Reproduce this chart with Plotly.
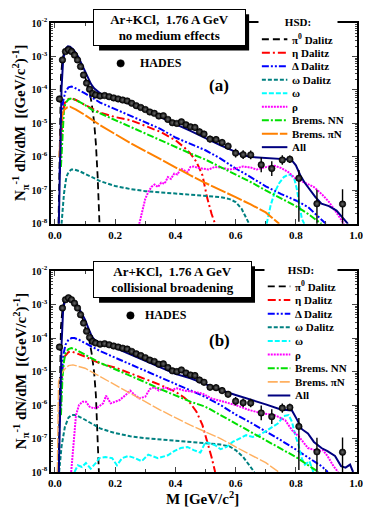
import plotly.graph_objects as go

# ---------------- HADES data (same points in both panels) ----------------
hades_m = [0.015, 0.025, 0.035, 0.045, 0.055, 0.065, 0.075, 0.085, 0.095, 0.105,
           0.115, 0.125, 0.135, 0.15, 0.165, 0.18, 0.195, 0.21, 0.225, 0.24,
           0.255, 0.27, 0.285, 0.30, 0.315, 0.33, 0.345, 0.36, 0.375, 0.39,
           0.405, 0.42, 0.435, 0.45, 0.465, 0.48, 0.495, 0.515, 0.535, 0.555,
           0.575, 0.60, 0.625, 0.65, 0.685, 0.72, 0.755, 0.78, 0.81, 0.87, 0.955]
hades_y = [5.4e-5, 7.9e-4, 1.4e-3, 1.6e-3, 1.4e-3, 1.1e-3, 7.9e-4, 5.0e-4, 2.8e-4, 1.6e-4,
           1.05e-4, 7.9e-5, 7.1e-5, 6.6e-5, 6.8e-5, 6.3e-5, 5.8e-5, 5.4e-5, 5.0e-5, 4.7e-5,
           4.0e-5, 3.4e-5, 3.0e-5, 2.6e-5, 2.2e-5, 2.0e-5, 1.66e-5, 1.7e-5, 1.32e-5, 1.05e-5,
           1.0e-5, 1.12e-5, 9.1e-6, 7.9e-6, 7.6e-6, 5.6e-6, 4.8e-6, 3.4e-6, 3.3e-6, 2.7e-6,
           2.1e-6, 1.3e-6, 1.17e-6, 1.15e-6, 5.8e-7, 4.5e-7, 8.1e-7, 8.5e-7, 2.3e-7, 4.0e-8, 3.9e-8]
# error bar half lengths, in decades
hades_err_up = [0.04] * 24 + [0.07] * 10 + [0.1] * 7 + [0.13, 0.13, 0.13, 0.22, 0.22, 0.14, 0.11, 0.25, 0.42, 0.44]
hades_err_dn = [0.04] * 24 + [0.07] * 10 + [0.1] * 7 + [0.13, 0.13, 0.13, 0.22, 0.22, 0.14, 0.11, 1.3, 2.0, 2.0]

# ---------------- HSD, panel (a): no medium effects ----------------
a_pi0_m = [0.012, 0.016, 0.02, 0.025, 0.03, 0.038, 0.045, 0.055, 0.065, 0.08, 0.095, 0.105,
           0.115, 0.122, 0.13, 0.136, 0.142, 0.148]
a_pi0_y = [1e-8, 1e-5, 2.5e-4, 7.9e-4, 1.26e-3, 1.66e-3, 1.78e-3, 1.66e-3, 1.32e-3, 7.9e-4, 3.5e-4, 1.78e-4,
           8.9e-5, 4.0e-5, 1.12e-5, 2.5e-6, 2.5e-7, 1e-8]

a_eta_m = [0.018, 0.025, 0.032, 0.045, 0.055, 0.07, 0.1, 0.125, 0.15, 0.2, 0.25, 0.3, 0.35, 0.4,
           0.43, 0.45, 0.47, 0.49, 0.505, 0.52, 0.532]
a_eta_y = [1e-6, 1.58e-5, 4.0e-5, 5.4e-5, 5.6e-5, 5.0e-5, 3.55e-5, 2.7e-5, 2.1e-5, 1.55e-5, 1.26e-5, 8.5e-6,
           5.6e-6, 3.16e-6, 1.9e-6, 1.26e-6, 7.1e-7, 2.8e-7, 6.3e-8, 2.0e-8, 1e-8]

a_delta_m = [0.016, 0.022, 0.028, 0.035, 0.045, 0.055, 0.065, 0.08, 0.1, 0.15, 0.2, 0.25, 0.3, 0.35,
             0.4, 0.45, 0.5, 0.55, 0.6, 0.65, 0.7, 0.75, 0.8, 0.84, 0.87, 0.9]
a_delta_y = [3.2e-7, 1.9e-5, 5.0e-5, 8.9e-5, 1.2e-4, 1.26e-4, 1.17e-4, 1.0e-4, 7.9e-5, 4.2e-5, 2.7e-5, 1.74e-5,
             1.1e-5, 6.9e-6, 3.8e-6, 2.5e-6, 1.58e-6, 8.9e-7, 4.5e-7, 2.5e-7, 1.32e-7, 7.9e-8, 5.0e-8,
             3.2e-8, 1.78e-8, 1e-8]

a_omdal_m = [0.022, 0.03, 0.038, 0.045, 0.055, 0.065, 0.08, 0.1, 0.15, 0.2, 0.25, 0.3, 0.35, 0.4,
             0.45, 0.5, 0.55, 0.58, 0.6, 0.62, 0.635, 0.645]
a_omdal_y = [1e-8, 7.9e-8, 2.5e-7, 3.5e-7, 4.2e-7, 4.2e-7, 3.8e-7, 3.16e-7, 1.9e-7, 1.35e-7, 1.1e-7, 9.5e-8,
             8.7e-8, 7.9e-8, 7.4e-8, 6.9e-8, 6.3e-8, 5.5e-8, 4.5e-8, 2.8e-8, 1.58e-8, 1e-8]

a_omega_m = [0.703, 0.716, 0.73, 0.745, 0.76, 0.775, 0.785, 0.795, 0.803, 0.812, 0.82, 0.828]
a_omega_y = [1e-8, 3.5e-8, 8.9e-8, 1.66e-7, 2.5e-7, 3.0e-7, 2.8e-7, 2.2e-7, 1.12e-7, 3.16e-8, 1.41e-8, 1e-8]

a_rho_m = [0.28, 0.288, 0.3, 0.31, 0.32, 0.331, 0.342, 0.353, 0.364, 0.375, 0.385, 0.396, 0.407, 0.418,
           0.43, 0.44, 0.45, 0.461, 0.475, 0.494, 0.51, 0.53, 0.55, 0.58, 0.6, 0.625, 0.65, 0.67, 0.69,
           0.71, 0.73, 0.75, 0.775, 0.8, 0.83, 0.86, 0.89, 0.91, 0.93, 0.95, 0.96]
a_rho_y = [1e-8, 2.2e-8, 5.6e-8, 8.9e-8, 1.26e-7, 1.5e-7, 1.26e-7, 1.7e-7, 1.58e-7, 2.5e-7, 2.2e-7, 3.16e-7,
           3.0e-7, 4.5e-7, 3.8e-7, 3.5e-7, 5.0e-7, 5.2e-7, 4.7e-7, 4.5e-7, 4.2e-7, 5.0e-7, 4.8e-7, 4.2e-7,
           4.5e-7, 5.2e-7, 4.8e-7, 4.2e-7, 4.7e-7, 5.2e-7, 5.4e-7, 4.7e-7, 3.5e-7, 2.2e-7, 1.7e-7,
           1.26e-7, 7.1e-8, 4.5e-8, 2.5e-8, 1.4e-8, 1e-8]

a_nn_m = [0.02, 0.025, 0.03, 0.035, 0.045, 0.055, 0.07, 0.1, 0.125, 0.15, 0.2, 0.25, 0.3, 0.35, 0.4,
          0.45, 0.5, 0.55, 0.6, 0.65, 0.7, 0.75, 0.8, 0.84, 0.885]
a_nn_y = [5.0e-7, 6.3e-6, 2.5e-5, 4.0e-5, 5.2e-5, 5.6e-5, 5.0e-5, 3.55e-5, 2.5e-5, 2.0e-5, 1.26e-5, 7.6e-6,
          4.8e-6, 3.0e-6, 1.9e-6, 1.26e-6, 8.3e-7, 5.0e-7, 3.0e-7, 1.78e-7, 1.0e-7, 6.0e-8, 3.4e-8,
          2.0e-8, 1e-8]

a_pin_m = [0.015, 0.02, 0.025, 0.03, 0.04, 0.05, 0.07, 0.1, 0.15, 0.2, 0.25, 0.3, 0.35, 0.4, 0.45,
           0.5, 0.55, 0.6, 0.65, 0.7, 0.745]
a_pin_y = [1e-6, 7.9e-6, 1.78e-5, 2.5e-5, 3.0e-5, 3.16e-5, 2.6e-5, 1.78e-5, 8.9e-6, 4.7e-6, 2.6e-6, 1.5e-6,
           8.5e-7, 4.8e-7, 2.8e-7, 1.66e-7, 1.05e-7, 6.3e-8, 3.8e-8, 2.2e-8, 1e-8]

a_all_m = [0.013, 0.018, 0.022, 0.027, 0.032, 0.037, 0.043, 0.05, 0.06, 0.07, 0.08, 0.09, 0.1, 0.11,
           0.12, 0.13, 0.14, 0.15, 0.165, 0.2, 0.25, 0.3, 0.35, 0.4, 0.45, 0.5, 0.55, 0.6, 0.62, 0.65,
           0.7, 0.75, 0.785, 0.8, 0.815, 0.83, 0.845, 0.865, 0.885, 0.91, 0.935, 0.955, 0.973]
a_all_y = [1e-8, 3.16e-6, 1.12e-4, 7.1e-4, 1.41e-3, 1.78e-3, 2.0e-3, 1.95e-3, 1.66e-3, 1.26e-3, 8.9e-4,
           5.6e-4, 3.55e-4, 2.2e-4, 1.5e-4, 1.12e-4, 9.1e-5, 7.9e-5, 7.1e-5, 5.6e-5, 3.8e-5, 2.5e-5,
           1.5e-5, 9.5e-6, 6.0e-6, 3.55e-6, 2.2e-6, 1.41e-6, 1.15e-6, 1.0e-6, 9.3e-7, 9.1e-7, 8.3e-7,
           5.6e-7, 2.8e-7, 1.66e-7, 1.07e-7, 6.3e-8, 4.0e-8, 3.4e-8, 2.5e-8, 1.58e-8, 1e-8]

# ---------------- HSD, panel (b): collisional broadening ----------------
b_pi0_m = [0.012, 0.016, 0.02, 0.025, 0.03, 0.038, 0.045, 0.055, 0.065, 0.08, 0.095, 0.105,
           0.115, 0.122, 0.13, 0.136, 0.142, 0.146]
b_pi0_y = [1e-8, 1e-5, 2.2e-4, 7.1e-4, 1.12e-3, 1.41e-3, 1.48e-3, 1.38e-3, 1.12e-3, 7.1e-4, 3.16e-4, 1.58e-4,
           7.9e-5, 3.5e-5, 1e-5, 2.0e-6, 1.58e-7, 1e-8]

b_eta_m = [0.018, 0.025, 0.032, 0.045, 0.055, 0.07, 0.1, 0.15, 0.2, 0.25, 0.3, 0.35, 0.4, 0.43,
           0.45, 0.47, 0.49, 0.505, 0.52, 0.532]
b_eta_y = [1e-6, 1.26e-5, 2.8e-5, 3.8e-5, 4.0e-5, 3.55e-5, 2.8e-5, 1.74e-5, 1.32e-5, 8.9e-6, 6.0e-6, 4.0e-6,
           2.5e-6, 1.66e-6, 1.12e-6, 6.3e-7, 2.5e-7, 8.9e-8, 2.8e-8, 1e-8]

b_delta_m = [0.016, 0.022, 0.028, 0.035, 0.045, 0.055, 0.065, 0.08, 0.1, 0.15, 0.2, 0.25, 0.3, 0.35,
             0.4, 0.45, 0.5, 0.55, 0.6, 0.65, 0.7, 0.75, 0.8, 0.85, 0.885, 0.906]
b_delta_y = [3.2e-7, 6.3e-6, 3.16e-5, 6.3e-5, 8.9e-5, 1.0e-4, 1.0e-4, 8.9e-5, 7.1e-5, 4.1e-5, 2.6e-5, 1.66e-5,
             1.05e-5, 6.8e-6, 4.3e-6, 2.75e-6, 1.74e-6, 1.0e-6, 5.2e-7, 3.0e-7, 1.66e-7, 8.9e-8, 4.7e-8,
             2.4e-8, 1.5e-8, 1e-8]

b_omdal_m = [0.014, 0.022, 0.033, 0.045, 0.055, 0.07, 0.092, 0.15, 0.2, 0.25, 0.3, 0.35, 0.4, 0.45,
             0.5, 0.55, 0.58, 0.6, 0.625, 0.645, 0.662]
b_omdal_y = [1e-8, 5.8e-8, 2.2e-7, 4.2e-7, 5.0e-7, 5.0e-7, 4.0e-7, 2.0e-7, 1.45e-7, 1.17e-7, 1.02e-7, 9.3e-8,
             8.7e-8, 7.9e-8, 7.2e-8, 6.6e-8, 5.8e-8, 4.5e-8, 2.8e-8, 1.58e-8, 1e-8]

b_omega_m = [0.065, 0.076, 0.09, 0.103, 0.119, 0.136, 0.147, 0.168, 0.19, 0.206, 0.223, 0.244, 0.266,
             0.288, 0.31, 0.342, 0.375, 0.396, 0.418, 0.44, 0.461, 0.483, 0.5, 0.516, 0.532, 0.55, 0.57,
             0.59, 0.613, 0.635, 0.657, 0.678, 0.7, 0.72, 0.74, 0.76, 0.776, 0.787, 0.798, 0.809, 0.82,
             0.83, 0.845, 0.858]
b_omega_y = [1e-8, 1.58e-8, 1.41e-8, 1.86e-8, 1.26e-8, 1.86e-8, 2.6e-8, 2.8e-8, 2.6e-8, 1.58e-8, 2.6e-8,
             3.0e-8, 2.6e-8, 2.1e-8, 3.3e-8, 2.6e-8, 3.16e-8, 4.2e-8, 5.2e-8, 5.6e-8, 4.5e-8, 3.8e-8,
             7.9e-8, 7.1e-8, 6.3e-8, 4.8e-8, 5.6e-8, 7.9e-8, 1.0e-7, 1.26e-7, 1.12e-7, 1.26e-7, 1.66e-7,
             2.2e-7, 2.8e-7, 4.7e-7, 5.0e-7, 3.16e-7, 1.26e-7, 6.3e-8, 2.5e-8, 1.66e-8, 2.1e-8, 1e-8]

b_rho_m = [0.054, 0.062, 0.07, 0.08, 0.092, 0.103, 0.115, 0.13, 0.145, 0.16, 0.17, 0.185, 0.2, 0.215,
           0.235, 0.25, 0.265, 0.28, 0.3, 0.315, 0.33, 0.345, 0.365, 0.385, 0.405, 0.43, 0.46, 0.49,
           0.52, 0.56, 0.6, 0.645, 0.69, 0.73, 0.765, 0.787, 0.81, 0.84, 0.875, 0.89, 0.905, 0.925, 0.94]
b_rho_y = [1e-8, 1e-7, 5.0e-7, 1.0e-6, 1.26e-6, 1.26e-6, 8.9e-7, 7.9e-7, 8.9e-7, 1.12e-6, 1.9e-6, 1.12e-6,
           1.26e-6, 1.41e-6, 2.0e-6, 2.7e-6, 2.0e-6, 1.58e-6, 1.78e-6, 3.0e-6, 3.4e-6, 2.7e-6, 3.4e-6,
           2.8e-6, 3.16e-6, 2.7e-6, 2.5e-6, 2.2e-6, 1.58e-6, 1.26e-6, 1.0e-6, 7.1e-7, 5.6e-7, 5.0e-7,
           3.5e-7, 1.78e-7, 1.15e-7, 5.2e-8, 4.2e-8, 4.5e-8, 3.0e-8, 1.5e-8, 1e-8]

b_nn_m = [0.02, 0.025, 0.03, 0.035, 0.045, 0.055, 0.07, 0.1, 0.15, 0.2, 0.25, 0.3, 0.35, 0.4, 0.45,
          0.5, 0.55, 0.6, 0.65, 0.7, 0.75, 0.8, 0.85, 0.875]
b_nn_y = [5.0e-7, 6.3e-6, 2.0e-5, 3.55e-5, 4.7e-5, 5.0e-5, 4.5e-5, 3.16e-5, 1.82e-5, 1.17e-5, 7.6e-6, 4.8e-6,
          3.0e-6, 1.9e-6, 1.26e-6, 8.9e-7, 5.0e-7, 2.8e-7, 1.66e-7, 9.3e-8, 5.2e-8, 2.8e-8, 1.4e-8, 1e-8]

b_pin_m = [0.008, 0.012, 0.02, 0.03, 0.045, 0.06, 0.1, 0.15, 0.2, 0.25, 0.3, 0.35, 0.4, 0.45, 0.5,
           0.55, 0.6, 0.65, 0.7, 0.743]
b_pin_y = [1e-8, 5.0e-6, 7.9e-6, 1.12e-5, 1.5e-5, 1.58e-5, 1.26e-5, 7.1e-6, 3.8e-6, 2.2e-6, 1.26e-6, 7.1e-7,
           4.2e-7, 2.5e-7, 1.58e-7, 1.0e-7, 5.6e-8, 3.3e-8, 1.9e-8, 1e-8]

b_all_m = [0.013, 0.018, 0.022, 0.027, 0.032, 0.037, 0.043, 0.05, 0.06, 0.07, 0.08, 0.09, 0.1, 0.11,
           0.12, 0.13, 0.14, 0.15, 0.2, 0.25, 0.3, 0.35, 0.4, 0.45, 0.5, 0.55, 0.6, 0.65, 0.7, 0.75,
           0.787, 0.803, 0.82, 0.84, 0.86, 0.885, 0.905, 0.93, 0.95, 0.965, 0.98, 0.99]
b_all_y = [1e-8, 3.16e-6, 6.3e-5, 6.3e-4, 1.2e-3, 1.48e-3, 1.58e-3, 1.55e-3, 1.38e-3, 1.12e-3, 7.9e-4,
           5.2e-4, 3.55e-4, 2.1e-4, 1.26e-4, 9.1e-5, 7.9e-5, 7.1e-5, 5.1e-5, 3.3e-5, 2.1e-5, 1.35e-5,
           8.5e-6, 6.3e-6, 4.2e-6, 2.8e-6, 2.0e-6, 1.48e-6, 1.05e-6, 7.4e-7, 6.9e-7, 3.8e-7, 1.9e-7,
           1.41e-7, 7.9e-8, 5.2e-8, 4.2e-8, 3.0e-8, 1.5e-8, 1.35e-8, 1.66e-8, 1e-8]

legend_names = ["π<sup>0</sup> Dalitz", "η Dalitz", "Δ Dalitz", "ω Dalitz", "ω", "ρ",
                "Brems. NN", "Brems. πN", "All"]

# ---------------- styles ----------------
FONT = "Liberation Serif"
styles_a = [("black", "7px,4px", 1.8), ("#ff0000", "8px,3px,2px,3px", 2), ("#0000ff", "7px,2px,2px,2px,2px,2px", 2),
            ("#008080", "4px,2px", 2), ("#00ffff", "5px,2px", 2), ("#ff00ff", "2px,1px", 2),
            ("#00e000", "7px,2px,2px,2px", 2), ("#ff8000", "16px,2px", 2), ("#000080", "solid", 2)]
styles_b = list(styles_a)
styles_b[7] = ("#ffb060", "10px,2px", 1.4)

# page body keeps an 8px margin, so the figure is 8px smaller and all positions are window pixels
OFF = 8
W, H = 371 - OFF, 510 - OFF
L, R, T, B = 51 - OFF, 8, 16 - OFF, 38
PW, PH = W - L - R, H - T - B


def px_x(x):
    return (x - OFF - L) / PW


def px_y(y):
    return (H - B - (y - OFF)) / PH


fig = go.Figure()

panels = [
    ("a", "x", "y", styles_a,
     [(a_pi0_m, a_pi0_y), (a_eta_m, a_eta_y), (a_delta_m, a_delta_y), (a_omdal_m, a_omdal_y),
      (a_omega_m, a_omega_y), (a_rho_m, a_rho_y), (a_nn_m, a_nn_y), (a_pin_m, a_pin_y), (a_all_m, a_all_y)]),
    ("b", "x2", "y2", styles_b,
     [(b_pi0_m, b_pi0_y), (b_eta_m, b_eta_y), (b_delta_m, b_delta_y), (b_omdal_m, b_omdal_y),
      (b_omega_m, b_omega_y), (b_rho_m, b_rho_y), (b_nn_m, b_nn_y), (b_pin_m, b_pin_y), (b_all_m, b_all_y)]),
]

err_plus = [y * (10 ** u - 1) for y, u in zip(hades_y, hades_err_up)]
err_minus = [y * (1 - 10 ** -d) for y, d in zip(hades_y, hades_err_dn)]

for tag, xa, ya, sty, curves in panels:
    for (m, v), (col, dash, wid), name in zip(curves, sty, legend_names):
        fig.add_trace(go.Scatter(x=m, y=v, mode="lines", name=name, xaxis=xa, yaxis=ya,
                                 line=dict(color=col, dash=dash, width=wid), showlegend=False))
    fig.add_trace(go.Scatter(
        x=hades_m, y=hades_y, mode="markers", name="HADES", xaxis=xa, yaxis=ya, showlegend=False,
        marker=dict(symbol="circle", size=6.5, color="black",
                    gradient=dict(type="radial", color="#6a6a6a"),
                    line=dict(width=0.6, color="black")),
        error_y=dict(type="data", symmetric=False, array=err_plus, arrayminus=err_minus,
                     color="black", thickness=1.4, width=0)))

xaxis_common = dict(range=[-0.013, 1.003], tickmode="linear", tick0=0, dtick=0.2, tickformat=".1f",
                    ticks="inside", ticklen=5, tickwidth=1, mirror="allticks", showline=True,
                    linecolor="black", linewidth=1.5, showgrid=False, zeroline=False,
                    tickfont=dict(family=FONT, size=11, color="black", weight="bold"),
                    minor=dict(tickmode="linear", tick0=0, dtick=0.1, ticks="inside", ticklen=3))
yaxis_common = dict(type="log", range=[-8, -2],
                    tickvals=[1e-8, 1e-7, 1e-6, 1e-5, 1e-4, 1e-3, 1e-2],
                    ticktext=["10<sup>-8</sup>", "10<sup>-7</sup>", "10<sup>-6</sup>", "10<sup>-5</sup>",
                              "10<sup>-4</sup>", "10<sup>-3</sup>", "10<sup>-2</sup>"],
                    ticks="inside", ticklen=5, tickwidth=1, mirror="allticks", showline=True,
                    linecolor="black", linewidth=1.5, showgrid=False, zeroline=False,
                    tickfont=dict(family=FONT, size=10, color="black", weight="bold"),
                    minor=dict(dtick="D1", ticks="inside", ticklen=2.5))

fig.update_layout(
    width=W, height=H, margin=dict(l=L, r=R, t=T, b=B),
    plot_bgcolor="white", paper_bgcolor="white", showlegend=False,
    font=dict(family=FONT, color="black"),
    xaxis=dict(xaxis_common, domain=[0, 1], anchor="y"),
    yaxis=dict(yaxis_common, domain=[px_y(220), 1], anchor="x"),
    xaxis2=dict(xaxis_common, domain=[0, 1], anchor="y2"),
    yaxis2=dict(yaxis_common, domain=[0, px_y(268)], anchor="x2"),
)

ann = []
shp = []
ytitle = "N<sub>π</sub><sup>-1</sup> dN/dM  [(GeV/c<sup>2</sup>)<sup>-1</sup>]"
bold = dict(family=FONT, color="black", weight="bold")


def note(x, y, text, size, anchor="center", **kw):
    ann.append(dict(x=px_x(x), y=px_y(y), xref="paper", yref="paper", text=text, showarrow=False,
                    xanchor=anchor, yanchor="middle", font=dict(bold, size=size), **kw))


# panel decorations: top px, title box, box text, label, label pos, HADES key, legend line x, text x,
# HSD pos and white width, rows
deco = [
    (16, (95, 248, 2, 39), "Ar+KCl,  1.76 A GeV<br>no medium effects", "(a)", (222, 79),
     (122, 57), 140, (266, 292), 295, 303, 15, 78, 32.5, 13.7, styles_a),
    (268, (95, 254, 258, 295), "Ar+KCl,  1.76 A GeV<br>collisional broadening", "(b)", (223, 338),
     (132, 313), 145, (272, 295), 298, 306, 267, 72, 283.5, 13.85, styles_b),
]
for (top, box, btxt, lab, labpos, hpos, htx, lx, tx, hsdx, hsdy, hsdw, row0, step, sty) in deco:
    note(20, top + 102, ytitle, 15, textangle=-90)
    # title box with shadow
    x0, x1, y0, y1 = box
    shp.append(dict(type="rect", xref="paper", yref="paper", x0=px_x(x0 + 5), x1=px_x(x1 + 5),
                    y0=px_y(y1 + 5), y1=px_y(y0 + 5), fillcolor="black", line=dict(width=0), layer="above"))
    note((x0 + x1) / 2, (y0 + y1) / 2, btxt, 13, bgcolor="white", bordercolor="black", borderwidth=1,
         borderpad=1, width=x1 - x0 - 4, height=y1 - y0 - 4)
    note(labpos[0], labpos[1], lab, 17)
    # HADES key
    hx, hy = hpos
    shp.append(dict(type="circle", xref="paper", yref="paper", x0=px_x(hx - 3.8), x1=px_x(hx + 3.8),
                    y0=px_y(hy + 3.8), y1=px_y(hy - 3.8), fillcolor="black", line=dict(width=0.5, color="black"),
                    layer="above"))
    note(htx, hy, "HADES", 12, anchor="left")
    # HSD key (its white background hides the frame behind it)
    note(hsdx, hsdy, "HSD:", 11, bgcolor="white", width=hsdw, height=12, borderpad=0)
    for i, ((col, dash, wid), name) in enumerate(zip(sty, legend_names)):
        yy = row0 + step * i
        shp.append(dict(type="line", xref="paper", yref="paper", x0=px_x(lx[0]), x1=px_x(lx[1]),
                        y0=px_y(yy), y1=px_y(yy), line=dict(color=col, dash=dash, width=max(wid, 1.8)),
                        layer="above"))
        note(tx, yy, name, 11, anchor="left")

note(205, 498, "M [GeV/c<sup>2</sup>]", 15)

fig.update_layout(annotations=ann, shapes=shp)
fig.write_html("out.html")
